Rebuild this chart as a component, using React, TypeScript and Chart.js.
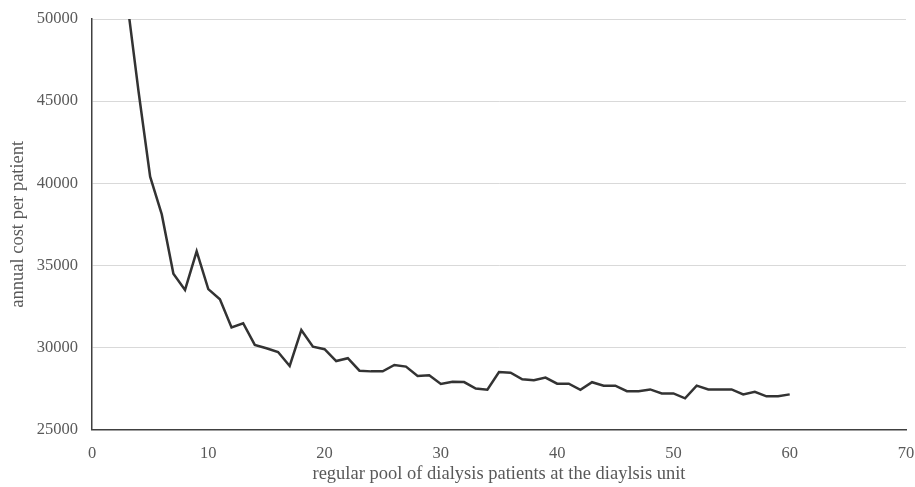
import React, { useEffect, useRef } from "react";
import { Chart, registerables } from "chart.js";

Chart.register(...registerables);

const poolSizes: number[] = [
  3, 4, 5, 6, 7, 8, 9, 10, 11, 12, 13, 14, 15, 16, 17, 18, 19, 20, 21, 22, 23, 24, 25, 26, 27, 28, 29, 30, 31,
  32, 33, 34, 35, 36, 37, 38, 39, 40, 41, 42, 43, 44, 45, 46, 47, 48, 49, 50, 51, 52, 53, 54, 55, 56, 57, 58,
  59, 60,
];

const annualCost: number[] = [
  51200, 45600, 40400, 38100, 34480, 33500, 35850, 33550, 32930, 31220, 31470, 30150, 29950, 29720, 28870,
  31060, 30040, 29890, 29170, 29340, 28580, 28540, 28540, 28930, 28830, 28260, 28300, 27770, 27910, 27890,
  27490, 27420, 28500, 28460, 28060, 28000, 28160, 27790, 27790, 27420, 27880, 27670, 27670, 27330, 27330,
  27440, 27200, 27200, 26900, 27670, 27440, 27440, 27440, 27140, 27300, 27020, 27020, 27140,
];

const xTitle = "regular pool of dialysis patients at the diaylsis unit";
const yTitle = "annual cost per patient";

const FONT = "'Liberation Serif', 'Times New Roman', serif";
const GRAY = "#595959";

export default function App() {
  const canvasRef = useRef<HTMLCanvasElement | null>(null);

  useEffect(() => {
    document.body.style.margin = "0";
    const canvas = canvasRef.current;
    if (!canvas) return;
    const points = poolSizes.map((x, i) => ({ x, y: annualCost[i] }));
    const chart = new Chart(canvas, {
      type: "line",
      data: {
        datasets: [
          {
            data: points,
            borderColor: "#333333",
            borderWidth: 2.5,
            pointRadius: 0,
            tension: 0,
            fill: false,
          },
        ],
      },
      options: {
        animation: false,
        responsive: false,
        maintainAspectRatio: false,
        layout: { padding: { top: 19, right: 9, left: 0, bottom: 0 } },
        plugins: { legend: { display: false }, tooltip: { enabled: false } },
        scales: {
          x: {
            type: "linear",
            min: 0,
            max: 70,
            ticks: {
              stepSize: 10,
              color: GRAY,
              font: { family: FONT, size: 16.5 },
              padding: 14,
              callback: (v: any) => String(v),
            },
            grid: { display: false, drawTicks: false },
            border: { display: true, color: "#404040", width: 1.5 },
            title: {
              display: true,
              text: xTitle,
              color: GRAY,
              font: { family: FONT, size: 18.5 },
              padding: { top: 0, bottom: 2 },
            },
            afterFit: (scale: any) => {
              scale.height = 57.5;
              scale.paddingLeft = 0;
              scale.paddingRight = 0;
            },
          },
          y: {
            min: 25000,
            max: 50000,
            ticks: {
              stepSize: 5000,
              color: GRAY,
              font: { family: FONT, size: 16.5 },
              padding: 14,
              callback: (v: any) => String(v),
            },
            grid: { color: "#d9d9d9", drawTicks: false, lineWidth: 1 },
            border: { display: true, color: "#404040", width: 1.5 },
            title: {
              display: true,
              text: yTitle,
              color: GRAY,
              font: { family: FONT, size: 18.5 },
              padding: { top: 7, bottom: 0 },
            },
            afterFit: (scale: any) => {
              scale.width = 92;
              scale.paddingTop = 0;
              scale.paddingBottom = 0;
            },
          },
        },
      },
    });
    return () => chart.destroy();
  }, []);

  return (
    <div style={{ width: 915, height: 487 }}>
      <canvas ref={canvasRef} width={915} height={487} style={{ display: "block" }} />
    </div>
  );
}
